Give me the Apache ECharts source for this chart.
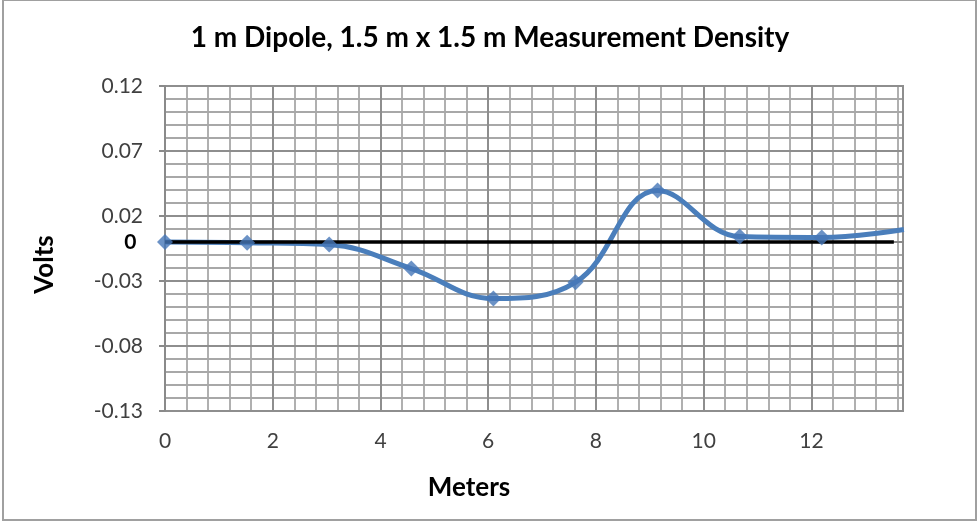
<!DOCTYPE html>
<html>
<head>
<meta charset="utf-8">
<script src="https://cdn.jsdelivr.net/npm/echarts@6/dist/echarts.min.js"></script>
<style>
html,body{margin:0;padding:0;background:#fff;}
#chart{width:980px;height:529px;}
</style>
</head>
<body>
<div id="chart"></div>
<script>
// Data
var meters = [0, 1.524, 3.048, 4.572, 6.096, 7.62, 9.144, 10.668, 12.192, 13.716];
var volts = [0, -0.0005, -0.002, -0.0204, -0.0435, -0.031, 0.0396, 0.0042, 0.0035, 0.0096];
var zeroLineX = [0, 13.53];
var zeroLineY = [0, 0];
var titleText = '1 m Dipole, 1.5 m x 1.5 m Measurement Density';
var xName = 'Meters';
var yName = 'Volts';

var font = 'Lato';
var pts = meters.map(function (m, i) { return [m, volts[i]]; });
var zeroPts = zeroLineX.map(function (x, i) {
  var d = { value: [x, zeroLineY[i]] };
  if (i === 0) {
    d.label = { show: true, formatter: '0', position: 'left', distance: 28,
      fontSize: 21, fontWeight: 'bold', color: '#000', fontFamily: font };
  }
  return d;
});

var minorGrid = { show: true, lineStyle: { color: '#a8a8a8', width: 1.8 } };
var majorGrid = { show: true, lineStyle: { color: '#8e8e8e', width: 2 } };
var axisGrey = { color: '#8a8a8a', width: 2 };

var chart = echarts.init(document.getElementById('chart'));
chart.setOption({
  animation: false,
  backgroundColor: '#fff',
  graphic: [{
    type: 'rect', shape: { x: 3, y: 0, width: 973, height: 520 },
    style: { fill: 'none', stroke: '#a0a0a0', lineWidth: 2 }, silent: true
  }],
  title: {
    text: titleText, left: 'center', top: 19,
    textStyle: { fontFamily: font, fontSize: 28, fontWeight: 'bold', color: '#000' }
  },
  grid: { left: 165, top: 86, right: 77, bottom: 118, show: true,
    borderColor: '#8e8e8e', borderWidth: 2 },
  xAxis: [{
    type: 'value', min: 0, max: 13.7, interval: 2, z: 2,
    name: xName, nameLocation: 'middle', nameGap: 64,
    nameTextStyle: { fontFamily: font, fontSize: 26, fontWeight: 'bold', color: '#000', padding: [0, 130, 0, 0] },
    axisLine: { show: true, lineStyle: axisGrey },
    axisTick: { show: true, inside: false, length: 6, lineStyle: axisGrey },
    axisLabel: { showMaxLabel: false, margin: 20, fontFamily: font, fontSize: 21, color: '#404040' },
    splitLine: majorGrid
  }, {
    type: 'value', min: 0, max: 13.7, interval: 0.4, position: 'top', z: 1,
    axisLine: { show: false }, axisTick: { show: false }, axisLabel: { show: false },
    splitLine: minorGrid
  }],
  yAxis: [{
    type: 'value', min: -0.13, max: 0.12, interval: 0.05, z: 2,
    name: yName, nameLocation: 'middle', nameGap: 107, nameRotate: 90,
    nameTextStyle: { fontFamily: font, fontSize: 26, fontWeight: 'bold', color: '#000', padding: [0, 32, 0, 0] },
    axisLine: { show: true, lineStyle: axisGrey },
    axisTick: { show: true, inside: false, length: 6, lineStyle: axisGrey },
    axisLabel: { margin: 22, fontFamily: font, fontSize: 21, color: '#404040',
      formatter: function (v) { return (Math.round(v * 100) / 100).toFixed(2); } },
    splitLine: majorGrid
  }, {
    type: 'value', min: -0.13, max: 0.12, interval: 0.01, position: 'right', z: 1,
    axisLine: { show: false }, axisTick: { show: false }, axisLabel: { show: false },
    splitLine: minorGrid
  }],
  series: [
    {
      type: 'line', data: pts, smooth: 0.4, showSymbol: false, symbol: 'none',
      xAxisIndex: 0, yAxisIndex: 0,
      lineStyle: { color: '#4a7ebb', width: 5 }, z: 3, clip: true
    },
    {
      type: 'line', data: zeroPts, symbol: 'circle', symbolSize: 1, showSymbol: true,
      xAxisIndex: 0, yAxisIndex: 0,
      itemStyle: { color: 'rgba(0,0,0,0)' },
      lineStyle: { color: '#000', width: 3.5 }, z: 4
    },
    {
      type: 'scatter', data: pts, symbol: 'diamond', symbolSize: 16,
      xAxisIndex: 0, yAxisIndex: 0,
      itemStyle: { color: '#4677b8' }, z: 5, clip: true
    }
  ]
});
</script>
</body>
</html>
